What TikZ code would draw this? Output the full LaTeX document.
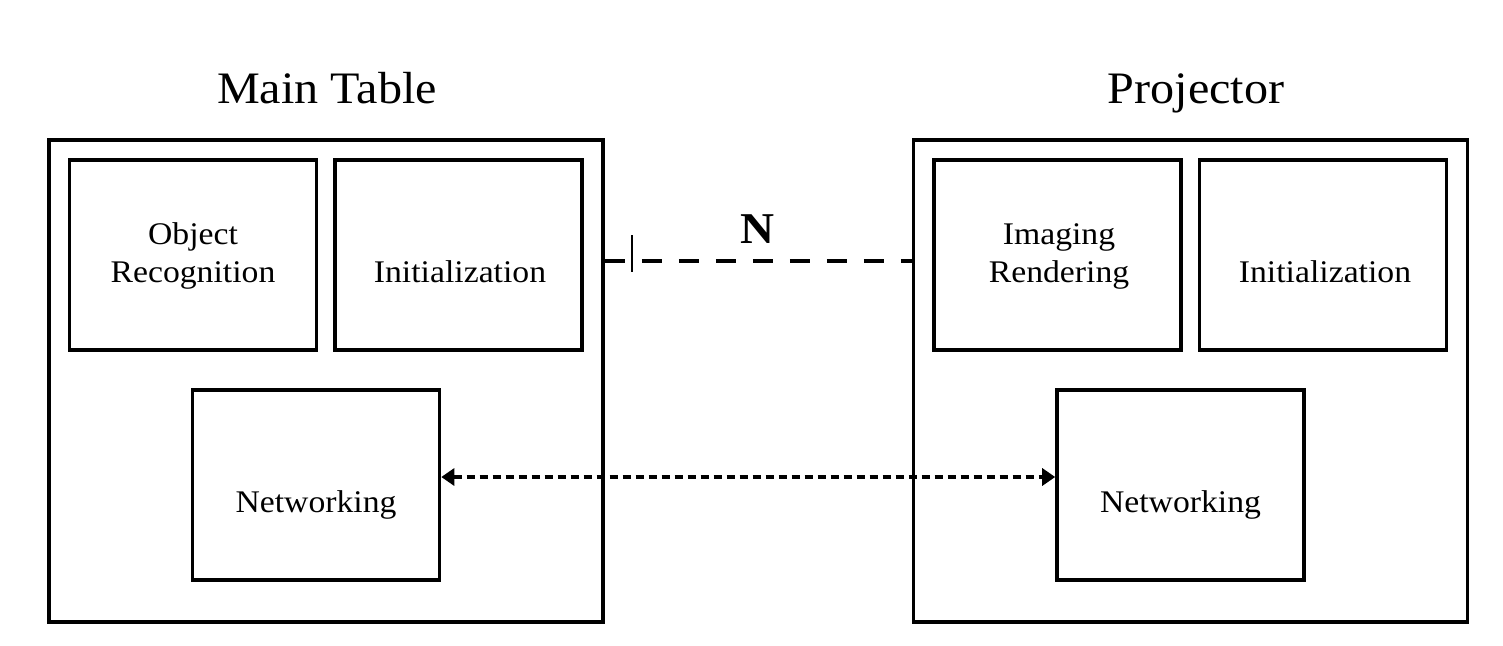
\documentclass[tikz,border=0pt]{standalone}
\usepackage{fontspec}
\setmainfont[FakeStretch=1.07]{Liberation Serif}
\usetikzlibrary{arrows.meta,positioning}
\begin{document}
\begin{tikzpicture}[x=1pt,y=-1pt,
  outerbox/.style={draw,line width=3.6pt,minimum width=554pt,minimum height=482pt,inner sep=0pt},
  modbox/.style={draw,line width=3.6pt,minimum width=247pt,minimum height=190pt,inner sep=0pt},
  title/.style={anchor=base,inner sep=0pt,font=\fontsize{45}{50}\selectfont},
  boxtext/.style={anchor=base,inner sep=0pt,align=center,font=\fontsize{31.5}{38}\selectfont},
  link/.style={line width=3.4pt,dash pattern=on 20pt off 17pt},
  netlink/.style={line width=3.2pt,dash pattern=on 8pt off 5pt,{Triangle[length=13pt,width=17pt]}-{Triangle[length=13pt,width=17pt]}}
]
\useasboundingbox (0,0) rectangle (1503,645);
\fill[white] (0,0) rectangle (1503,645);

% Main table unit
\node[outerbox] (main) at (326,381) {};
\node[title] (maintitle) at (327,103) {Main Table};
\node[modbox] (objrec) at (193,255) {};
\node[boxtext] at (193,282) {Object\\Recognition};
\node[modbox] (initL) at (458.5,255) {};
\node[boxtext] at (460,282) {Initialization};
\node[modbox] (netL) at (316,485) {};
\node[boxtext] at (316,512) {Networking};

% Projector unit
\node[outerbox] (proj) at (1190.5,381) {};
\node[title] (projtitle) at (1196,103) {Projector};
\node[modbox] (imaging) at (1057.5,255) {};
\node[boxtext] at (1059,282) {Imaging\\Rendering};
\node[modbox] (initR) at (1323,255) {};
\node[boxtext] at (1325,282) {Initialization};
\node[modbox] (netR) at (1180.5,485) {};
\node[boxtext] at (1180.5,512) {Networking};

% Link between the two units
\coordinate (dashy) at (0,261);
\draw[link] (main.east |- dashy) -- (proj.west |- dashy);
\coordinate (tick) at (632,261);
\draw[line width=2pt] (tick) ++(0,-26) -- ++(0,37);
\node[anchor=base,inner sep=0pt,font=\fontsize{44}{48}\selectfont\bfseries] (N) at (757,243) {N};

% Network connection
\coordinate (nety) at (0,477);
\draw[netlink] (netL.east |- nety) -- (netR.west |- nety);
\end{tikzpicture}
\end{document}
